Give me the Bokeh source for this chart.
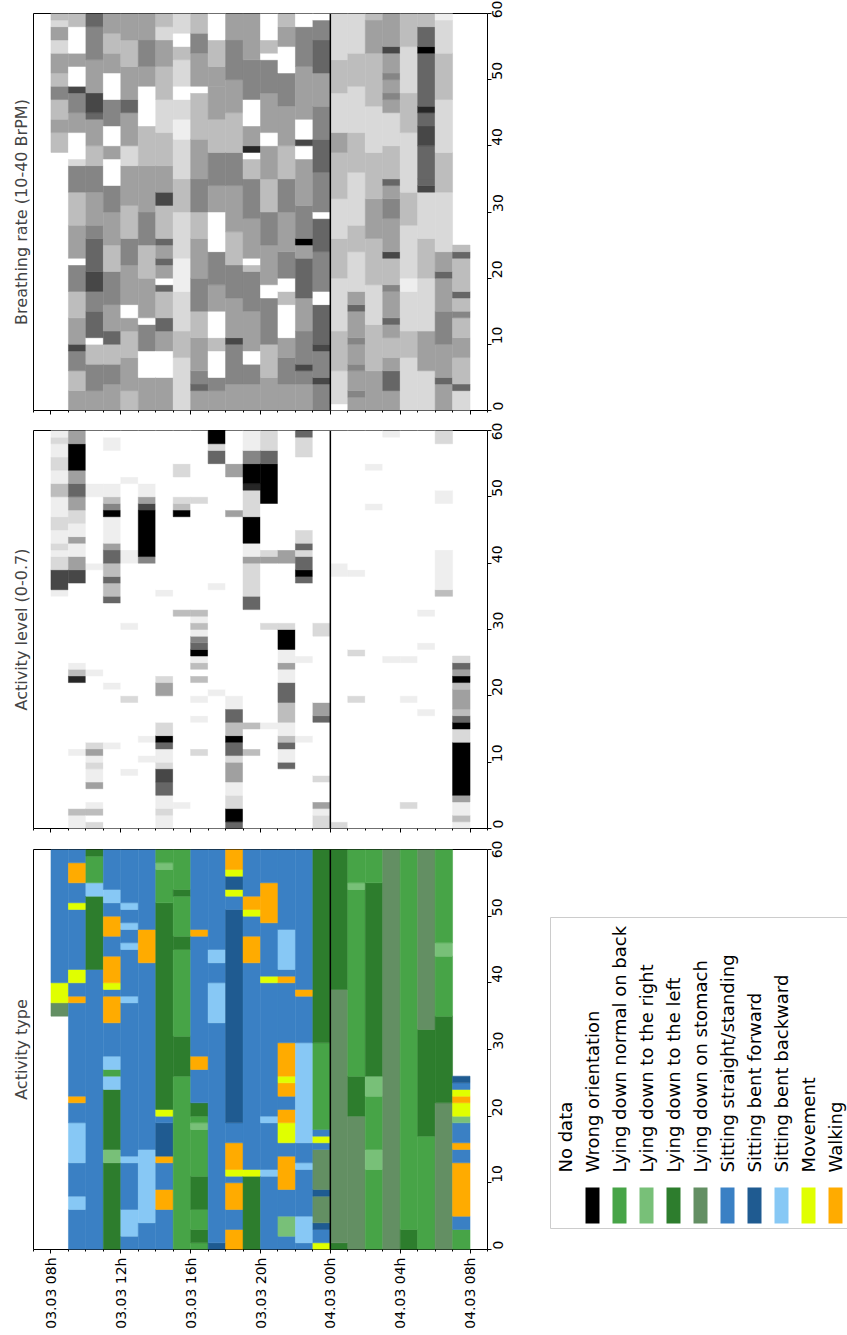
import math

from bokeh.core.properties import value
from bokeh.embed import file_html
from bokeh.layouts import column, row
from bokeh.models import ColumnDataSource, FixedTicker, Label, Range1d, Spacer, Span
from bokeh.plotting import figure
from bokeh.resources import INLINE
from bokeh.transform import factor_cmap, linear_cmap

FONT = "DejaVu Sans"

# one column per hour, counted from 03.03 00:00 (08h ... 07h next day)
HOURS = list(range(8, 32))
TIME_TICKS = [8, 12, 16, 20, 24, 28, 32]
TIME_LABELS = ["03.03 08h", "03.03 12h", "03.03 16h", "03.03 20h",
               "04.03 00h", "04.03 04h", "04.03 08h"]
MINUTE_TICKS = [0, 10, 20, 30, 40, 50, 60]
MIDNIGHT = 24

CATEGORIES = ["No data", "Wrong orientation", "Lying down normal on back",
              "Lying down to the right", "Lying down to the left",
              "Lying down on stomach", "Sitting straight/standing",
              "Sitting bent forward", "Sitting bent backward", "Movement", "Walking"]
CAT_CODES = ["N", "W", "B", "R", "L", "S", "T", "F", "K", "M", "A"]
CAT_COLORS = ["#ffffff", "#000000", "#47a447", "#78c078", "#2d7d2d",
              "#638f63", "#3a80c4", "#1f5b91", "#87c8f5", "#e0ff00", "#ffab00"]

# activity type per hour: code + minutes, from minute 0 upwards
TYPE_RUNS = [
    "N35 S2 M3 T20",
    "T6 K2 T5 K6 T3 A1 T14 A1 T2 M2 T9 M1 T3 A3 T2",
    "T42 L11 K2 B4 L1",
    "L13 R2 L9 K2 B1 K2 T5 A4 T1 M1 A4 T3 A3 T2 K2 T6",
    "T2 K4 T7 K1 T23 K1 T7 K1 T2 K1 T2 K1 T8",
    "T4 K11 T28 A5 T12",
    "T6 A3 T4 A1 F5 T1 M1 L31 B5 R1 B2",
    "B26 L6 B13 L2 B6 L1 B6",
    "B1 L2 B3 L5 B7 R1 B1 L2 T5 A2 T18 A1 T12",
    "F1 T33 K6 T3 K2 T15",
    "A3 T3 A4 T1 M1 A4 T3 F32 T2 M1 F2 M1 A3",
    "L11 M1 T31 A4 T3 M1 A2 T7",
    "T11 K1 T7 K1 T20 M1 T8 A6 T5",
    "T2 R3 T4 A5 T2 M3 A2 T2 A2 M1 A5 T9 A1 T1 K6 T12",
    "T1 K4 T7 K1 T3 K15 T7 A1 T21",
    "M1 T2 F1 S4 F1 S6 T1 M1 T1 B13 L29",
    "L1 S38 L21",
    "S20 L6 B28 R1 B5",
    "B12 R3 B8 R3 L29 B5",
    "S60",
    "L3 B57",
    "B17 L16 S27",
    "S22 L13 B9 R2 B14",
    "B3 T2 A8 T2 A1 T3 R1 M2 A1 M1 T1 F1 N34",
]

# activity level per hour: shade step (0 = 0, 9 = 0.7) : minutes, "-" = no data
LEVEL_RUNS = [
    "-:35 1:1 7:3 2:2 1:1 2:1 1:2 2:2 1:3 3:2 1:2 2:2 1:2 2:1 1:1",
    "1:2 3:1 0:8 1:1 0:10 8:1 3:1 1:1 0:12 7:2 4:2 1:2 4:1 1:2 2:2 4:2 6:2 4:2 9:4 4:2",
    "2:1 0:1 3:1 1:1 0:2 4:1 1:2 2:1 1:1 4:1 2:1 0:10 1:1 0:15 1:1 0:10 1:2 0:8",
    "0:12 1:1 0:8 1:1 0:12 6:1 3:2 6:1 3:2 6:2 4:1 1:4 9:1 5:1 3:1 1:2 0:5 1:2 0:1",
    "0:8 1:1 0:10 2:1 0:10 1:1 0:9 1:2 0:10 1:1 0:7",
    "0:10 1:1 0:2 1:1 0:26 5:1 9:7 7:1 4:1 1:2 0:8",
    "1:2 2:1 1:2 6:2 7:2 2:1 1:2 6:1 9:1 2:2 0:4 4:2 2:1 0:12 1:1 0:24",
    "0:3 1:1 0:28 3:1 0:14 9:1 3:1 2:1 0:3 2:2 0:5",
    "0:11 2:1 0:4 1:1 0:2 1:1 0:2 3:1 0:1 3:1 1:1 9:1 6:1 5:1 1:1 3:1 1:1 3:1 0:16 2:1 0:10",
    "0:20 1:1 0:15 1:1 0:18 6:2 2:1 9:2",
    "6:1 9:2 2:2 1:2 4:3 2:1 6:2 9:1 3:2 6:2 1:2 0:27 4:1 0:5 4:2 0:5",
    "0:11 3:1 0:3 3:1 0:17 6:2 2:5 4:1 1:2 9:4 2:4 8:1 9:3 5:2 1:3",
    "0:15 1:1 0:14 2:1 0:9 4:1 2:1 0:7 9:6 6:2 2:3",
    "0:9 6:1 1:2 6:1 3:1 1:2 3:3 6:3 1:2 4:1 1:2 9:3 2:1 0:9 4:2 0:18",
    "0:13 1:1 0:11 1:1 0:11 6:1 9:1 6:2 2:1 6:1 2:2 0:11 2:3 6:1",
    "2:2 1:1 4:1 0:3 2:1 0:8 6:1 4:2 0:10 2:2 0:29",
    "2:1 0:37 1:2 0:20",
    "0:19 2:1 0:6 2:1 0:11 1:1 0:21",
    "0:48 1:1 0:5 1:1 0:5",
    "0:25 1:1 0:33 1:1",
    "0:3 2:1 0:15 1:1 0:5 1:1 0:34",
    "0:17 1:1 0:9 1:1 0:4 1:1 0:27",
    "0:35 3:1 1:6 0:7 1:2 0:7 2:2",
    "1:1 3:1 1:2 4:1 9:8 2:2 9:1 6:1 3:1 4:3 3:1 9:1 4:1 6:1 2:1 -:34",
]

# breathing rate per hour: shade step (0 = 10, 9 = 40 BrPM) : minutes
BREATH_RUNS = [
    "-:39 3:3 4:2 3:3 5:2 3:2 4:3 2:2 4:2 2:1 3:1",
    "4:3 3:3 5:3 7:1 4:4 3:4 5:4 0:1 4:5 3:5 5:4 2:1 0:4 4:3 5:3 7:1 0:3 4:2 0:4 3:2",
    "4:3 5:4 3:3 0:1 6:4 5:3 7:3 6:5 5:2 4:5 5:4 3:3 4:4 6:1 7:3 4:5 5:5 6:2",
    "4:4 5:3 3:3 6:2 4:4 5:5 3:4 4:5 5:4 0:4 4:2 0:3 5:4 0:4 4:3 3:3 4:3",
    "3:3 4:5 3:4 4:2 0:2 4:6 5:4 3:5 4:6 2:3 4:5 6:2 4:5 3:4 4:4",
    "4:5 0:4 5:4 0:1 4:6 3:5 5:5 4:7 3:6 0:6 4:3 5:4 4:4",
    "4:5 0:4 4:3 6:2 3:4 6:1 0:1 4:2 6:1 4:2 6:1 3:5 7:2 4:4 3:5 2:5 3:5 4:4 2:2 3:2",
    "2:8 3:4 2:6 1:5 2:7 3:5 2:6 1:3 2:3 0:2 2:4 3:2 0:2 2:3",
    "4:3 6:1 5:2 4:5 3:4 5:5 4:6 3:4 5:5 4:6 3:7 0:1 4:5 5:3 3:3",
    "4:3 5:2 0:4 3:2 0:4 4:4 5:5 0:6 4:4 5:5 3:5 4:5 4:3 3:4 0:4",
    "4:4 5:6 7:1 4:6 5:5 3:5 4:7 5:5 3:6 4:5 5:6 4:4",
    "4:4 5:3 0:2 4:6 5:6 3:1 0:1 4:6 5:6 3:3 0:1 8:1 4:3 0:4 5:6 4:7",
    "4:5 3:5 5:7 0:2 4:6 5:5 3:5 4:5 0:2 4:6 5:5 0:1 3:2 0:4",
    "4:4 5:4 4:3 0:5 3:2 0:2 5:4 4:6 5:5 3:5 4:6 5:5 0:4 4:3 3:2",
    "4:4 5:2 7:1 5:5 4:5 6:6 4:2 9:1 5:5 4:7 0:2 7:1 0:3 4:8 5:6 0:2",
    "5:4 7:1 5:4 7:1 6:6 0:2 5:6 6:5 0:1 5:6 6:5 5:5 4:5 6:5 5:3 0:1",
    "0:1 2:5 3:6 2:8 3:6 2:6 3:7 4:3 2:6 3:5 2:7",
    "4:2 5:1 4:3 5:1 4:3 5:1 4:4 6:1 4:2 2:6 3:4 2:8 3:6 2:7 3:5 2:6",
    "4:6 3:7 2:6 3:7 4:6 3:7 2:7 3:8 4:5 3:1",
    "4:3 6:3 4:2 3:3 4:2 6:1 4:4 5:1 3:4 7:1 4:5 5:3 4:2 6:1 3:5 2:5 4:2 5:1 4:2 5:1 4:3 7:1 4:5",
    "2:8 3:4 2:6 1:2 2:8 3:5 2:9 3:6 2:7 3:5",
    "2:6 4:6 2:8 3:6 2:7 7:1 6:1 6:5 7:3 6:2 8:1 6:8 9:1 6:3 3:2",
    "4:4 6:1 4:5 5:5 4:5 6:1 4:3 2:9 3:6 2:8 3:7 2:5 1:1",
    "2:3 6:1 3:4 4:3 3:3 5:1 3:2 6:1 3:5 6:1 3:1 -:35",
]

SHADES = ["#ffffff", "#eeeeee", "#d9d9d9", "#bdbdbd", "#a0a0a0",
          "#858585", "#666666", "#474747", "#262626", "#000000"]


def shade_source(run_strings, lo, hi):
    d = dict(left=[], right=[], bottom=[], top=[], value=[])
    for hour, runs in zip(HOURS, run_strings):
        m = 0
        for tok in runs.split():
            code, n = tok.split(":")
            n = int(n)
            if code != "-" and m < 60:
                d["left"].append(hour)
                d["right"].append(hour + 1)
                d["bottom"].append(m)
                d["top"].append(min(m + n, 60))
                d["value"].append(lo + int(code) * (hi - lo) / 9)
            m += n
    return ColumnDataSource(d)


def type_source(run_strings):
    names = dict(zip(CAT_CODES, CATEGORIES))
    d = dict(left=[], right=[], bottom=[], top=[], cat=[])
    for hour, runs in zip(HOURS, run_strings):
        m = 0
        for tok in runs.split():
            code, n = tok[0], int(tok[1:])
            if code != "N" and m < 60:
                d["left"].append(hour)
                d["right"].append(hour + 1)
                d["bottom"].append(m)
                d["top"].append(min(m + n, 60))
                d["cat"].append(names[code])
            m += n
    return ColumnDataSource(d)


def make_panel(title, height, top, bottom, labels):
    p = figure(width=548, height=height, x_range=Range1d(7, 33), y_range=Range1d(0, 60),
               title=title, title_location="left", y_axis_location="right",
               tools="", toolbar_location=None, output_backend="svg",
               min_border_left=33, min_border_right=61,
               min_border_top=top, min_border_bottom=bottom)
    p.title.text_font = FONT
    p.title.text_font_size = "16px"
    p.title.text_font_style = "normal"
    p.title.align = "center"
    p.title.standoff = 6
    p.xgrid.visible = False
    p.ygrid.visible = False
    p.outline_line_color = "black"
    p.outline_line_alpha = 1

    xa = p.xaxis[0]
    xa.ticker = FixedTicker(ticks=TIME_TICKS, minor_ticks=list(range(7, 34)))
    xa.major_label_orientation = math.pi / 2
    xa.axis_line_color = None
    xa.major_tick_in = 0
    xa.major_tick_out = 4
    xa.minor_tick_in = 0
    xa.minor_tick_out = 2
    xa.major_label_text_font = FONT
    xa.major_label_text_font_size = "14px"
    xa.major_label_text_color = "black"
    if labels:
        xa.major_label_overrides = dict(zip(TIME_TICKS, TIME_LABELS))
        xa.major_label_standoff = 4
    else:
        xa.major_label_overrides = {t: "" for t in TIME_TICKS}
        xa.major_label_standoff = 0

    ya = p.yaxis[0]
    ya.ticker = FixedTicker(ticks=MINUTE_TICKS)
    ya.major_label_orientation = math.pi / 2
    ya.axis_line_color = None
    ya.major_tick_in = 0
    ya.major_tick_out = 4
    ya.minor_tick_line_color = None
    ya.major_label_standoff = 6
    ya.major_label_text_font = FONT
    ya.major_label_text_font_size = "14px"
    ya.major_label_text_color = "black"

    p.add_layout(Label(x=33, y=30, x_offset=35, text="Minutes", angle=math.pi / 2,
                       text_align="center", text_baseline="middle",
                       text_font=FONT, text_font_size="14px", text_color="black"))
    return p


p_br = make_panel("Breathing rate (10-40 BrPM)", 422, 13, 12, False)
br_map = linear_cmap("value", SHADES, 10, 40)
p_br.quad(left="left", right="right", bottom="bottom", top="top",
          source=shade_source(BREATH_RUNS, 10, 40),
          fill_color=br_map, line_color=br_map, line_width=0.5)

p_lv = make_panel("Activity level (0-0.7)", 418, 8, 12, False)
lv_map = linear_cmap("value", SHADES, 0, 0.7)
p_lv.quad(left="left", right="right", bottom="bottom", top="top",
          source=shade_source(LEVEL_RUNS, 0, 0.7),
          fill_color=lv_map, line_color=lv_map, line_width=0.5)

p_ty = make_panel("Activity type", 493, 9, 84, True)
ty_map = factor_cmap("cat", palette=CAT_COLORS, factors=CATEGORIES)
p_ty.quad(left="left", right="right", bottom="bottom", top="top",
          source=type_source(TYPE_RUNS),
          fill_color=ty_map, line_color=ty_map, line_width=0.5)

for p in (p_br, p_lv, p_ty):
    p.add_layout(Span(location=MIDNIGHT, dimension="height",
                      line_color="black", line_width=1.5))

# legend drawn by hand, rotated like the rest of the figure
leg = figure(width=299, height=335, x_range=Range1d(0, 299), y_range=Range1d(0, 335),
             tools="", toolbar_location=None, output_backend="svg", min_border=0)
leg.axis.visible = False
leg.xgrid.visible = False
leg.ygrid.visible = False
leg.outline_line_color = None
leg.quad(left=2, right=305, bottom=12, top=323, fill_color="white",
         line_color="#cccccc", line_width=1)
xs = [17 + 27 * i for i in range(len(CATEGORIES))]
leg.rect(x=xs[1:], y=35, width=14, height=36, fill_color=CAT_COLORS[1:], line_color=None)
leg.text(x=xs, y=68, text=CATEGORIES, angle=math.pi / 2,
         text_align="left", text_baseline="middle",
         text_font=value(FONT), text_font_size="18px", text_color="black")

layout = row(column(p_br, p_lv, p_ty),
             column(Spacer(width=299, height=905), leg))

open("out.html", "w").write(file_html(layout, INLINE))
